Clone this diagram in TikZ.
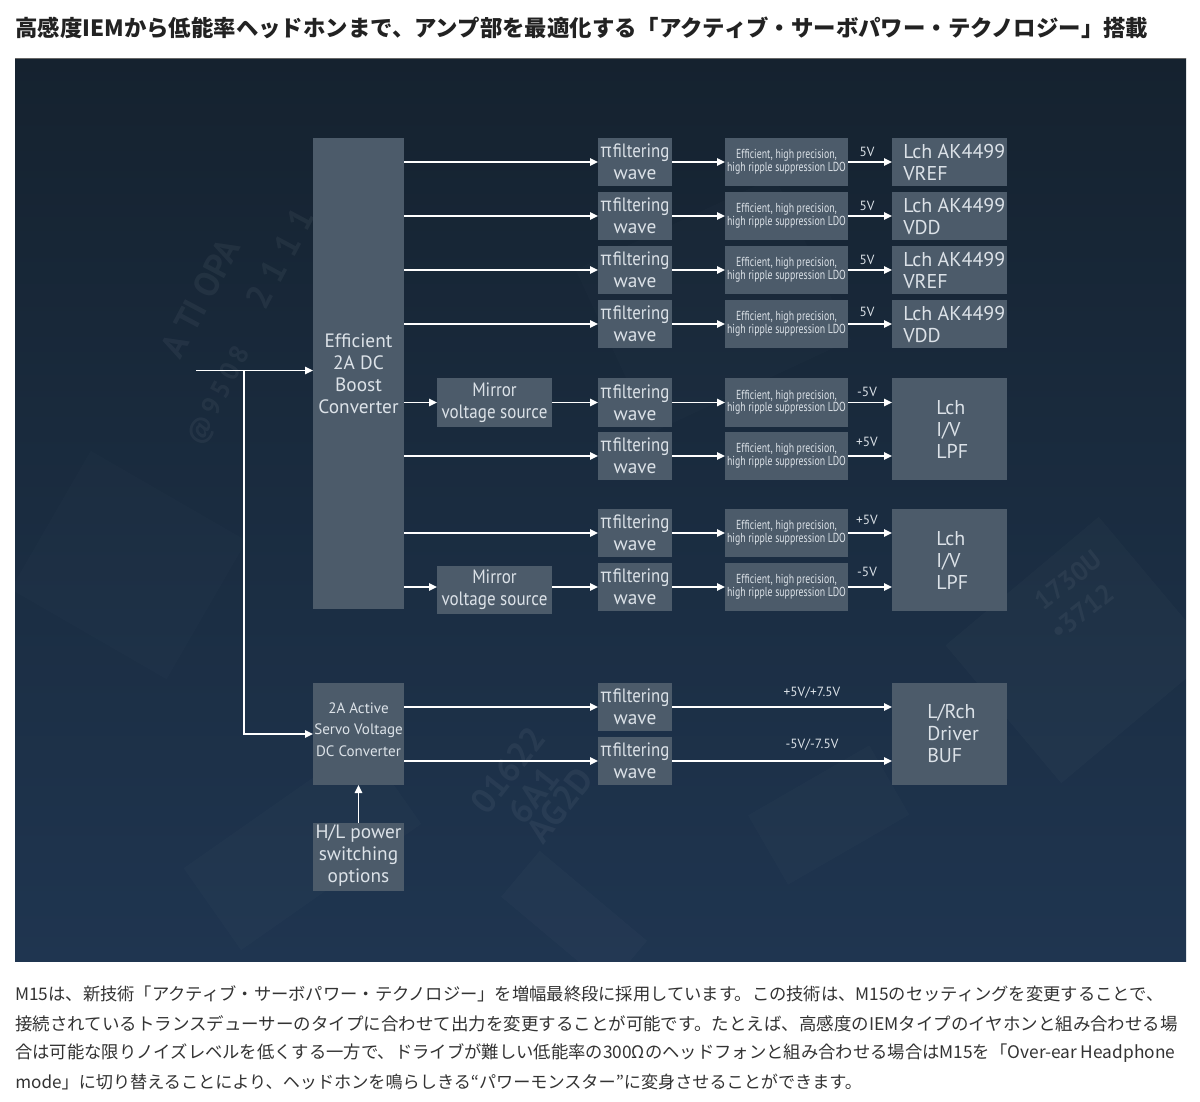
\documentclass[tikz,border=0pt]{standalone}
\usepackage{fontspec}
\usepackage{graphicx}
\setmainfont{PT Sans}
\newfontfamily\cjk{Noto Sans CJK JP}
\newfontfamily\grk{Noto Sans}
\usetikzlibrary{arrows.meta}
\definecolor{panelTop}{HTML}{15222F}
\definecolor{panelMid}{HTML}{1A2C40}
\definecolor{panelBot}{HTML}{1F3550}
\definecolor{boxc}{HTML}{4C5B6A}
\definecolor{boxtxt}{HTML}{DCE2E8}
\definecolor{titlec}{HTML}{222222}
\definecolor{bodyc}{HTML}{333333}
\newcommand\piw{\scalebox{0.87}[1]{{\grk π}\kern1pt filtering}\\wave}
\newcommand\ldotxt{\scalebox{0.75}[1]{\fontsize{9.8}{11}\selectfont\begin{tabular}{@{}c@{}}Efficient, high precision,\\[-1.5pt]high ripple suppression LDO\end{tabular}}}
\newcommand\mirr{\scalebox{0.88}[1]{Mirror}\\\scalebox{0.88}[1]{voltage source}}
% box from corner (x1,y1) to (x2,y2) in pixels
\newcommand\bx[7]{%
  \pgfmathsetmacro\bxcx{(#2+#4)/2}%
  \pgfmathsetmacro\bxcy{(#3+#5)/2}%
  \pgfmathsetmacro\bxw{(#4-#2)*0.75}%
  \pgfmathsetmacro\bxh{(#5-#3)*0.75}%
  \node[#6, minimum width=\bxw pt, minimum height=\bxh pt] (#1) at (\bxcx,\bxcy) {#7};}
\tikzset{
  blk/.style={fill=boxc, draw=none, inner sep=0pt, outer sep=0pt, text=boxtxt, align=center},
  pibox/.style={blk, font=\fontsize{14.5}{16.5}\selectfont},
  ldobox/.style={blk},
  outbox/.style={blk, font=\fontsize{15}{16.5}\selectfont, align=left},
  otext/.style={text=boxtxt, font=\fontsize{15}{16.5}\selectfont, align=left, inner sep=0pt, anchor=west},
  arr/.style={draw=white, line width=1.4pt, -{Triangle[length=6pt,width=5.5pt]}},
  vlab/.style={text=boxtxt, font=\fontsize{10}{12}\selectfont, inner sep=1pt},
  ghost/.style={text=white, opacity=0.05, font=\fontsize{26}{28}\selectfont\bfseries, inner sep=0pt}
}
\begin{document}
\begin{tikzpicture}[x=0.75pt,y=-0.75pt]
\useasboundingbox (0,0) rectangle (1200,1101);
\fill[white] (0,0) rectangle (1200,1101);
% title
\node[anchor=west, inner sep=0pt, text=titlec] (title) at (15,28)
  {\resizebox{849.75pt}{!}{\cjk\bfseries 高感度IEMから低能率ヘッドホンまで、アンプ部を最適化する「アクティブ・サーボパワー・テクノロジー」搭載}};
% panel
\shade[top color=panelTop, bottom color=panelBot, middle color=panelMid] (15,58) rectangle (1186,961);
\draw[line width=0.8pt, color=black!60] (15,58.5) -- (1186,58.5);
% faint background texture
\begin{scope}
\clip (15,58) rectangle (1186,961);
\fill[white, opacity=0.015, rotate around={35:(300,860)}] (200,800) rectangle (420,900);
\fill[white, opacity=0.018, rotate around={-40:(560,920)}] (500,880) rectangle (640,940);
\fill[white, opacity=0.018, rotate around={40:(1080,650)}] (980,560) rectangle (1180,740);
\fill[white, opacity=0.015, rotate around={30:(820,820)}] (760,780) rectangle (900,860);
\fill[white, opacity=0.012, rotate around={-30:(120,560)}] (40,480) rectangle (220,640);
\fill[white, opacity=0.012, rotate around={25:(700,300)}] (600,220) rectangle (820,400);
\node[ghost, rotate=62] (g1) at (200,298) {A TI OPA};
\node[ghost, rotate=62] (g2) at (280,258) {2\;1\;1\;1};
\node[ghost, rotate=62, font=\fontsize{20}{24}\selectfont\bfseries] (g3) at (220,396) {@\,9\,5\,0\,8};
\node[ghost, rotate=52] (g4) at (508,770) {01622};
\node[ghost, rotate=52] (g5) at (533,795) {6A1};
\node[ghost, rotate=52] (g6) at (560,805) {AG2D};
\node[ghost, rotate=38, font=\fontsize{20}{24}\selectfont\bfseries] (g7) at (1068,580) {1730U};
\node[ghost, rotate=38, font=\fontsize{20}{24}\selectfont\bfseries] (g8) at (1082,612) {\textbullet3712};
\end{scope}
% main blocks
\bx{boost}{313}{138}{404}{609}{blk, font=\fontsize{14.5}{16.5}\selectfont}{Efficient\\2A DC\\Boost\\Converter}
\bx{servo}{313}{683}{404}{785}{blk, font=\fontsize{11.3}{16}\selectfont}{2A Active\\Servo Voltage\\DC Converter\\[-9.2pt]}
\bx{hl}{313}{823}{404}{891}{blk, font=\fontsize{14.5}{16.5}\selectfont}{H/L power\\switching\\options\\[-11.5pt]}
\bx{m1}{437}{378}{552}{427}{blk, font=\fontsize{14.5}{16.5}\selectfont}{\mirr}
\bx{m2}{437}{566}{552}{614}{blk, font=\fontsize{14.5}{16.5}\selectfont}{\mirr}
% pi filters
\bx{p1}{598}{138}{672}{186}{pibox}{\piw}
\bx{p2}{598}{192}{672}{240}{pibox}{\piw}
\bx{p3}{598}{246}{672}{294}{pibox}{\piw}
\bx{p4}{598}{300}{672}{348}{pibox}{\piw}
\bx{p5}{598}{378}{672}{427}{pibox}{\piw}
\bx{p6}{598}{432}{672}{480}{pibox}{\piw}
\bx{p7}{598}{509}{672}{557}{pibox}{\piw}
\bx{p8}{598}{563}{672}{611}{pibox}{\piw}
\bx{p9}{598}{683}{672}{731}{pibox}{\piw}
\bx{p10}{598}{737}{672}{785}{pibox}{\piw}
% LDOs
\bx{d1}{725}{138}{848}{186}{ldobox}{\ldotxt}
\bx{d2}{725}{192}{848}{240}{ldobox}{\ldotxt}
\bx{d3}{725}{246}{848}{294}{ldobox}{\ldotxt}
\bx{d4}{725}{300}{848}{348}{ldobox}{\ldotxt}
\bx{d5}{725}{378}{848}{427}{ldobox}{\ldotxt}
\bx{d6}{725}{432}{848}{480}{ldobox}{\ldotxt}
\bx{d7}{725}{509}{848}{557}{ldobox}{\ldotxt}
\bx{d8}{725}{563}{848}{611}{ldobox}{\ldotxt}
% outputs
\bx{o1}{892}{138}{1007}{186}{outbox}{}
\bx{o2}{892}{192}{1007}{240}{outbox}{}
\bx{o3}{892}{246}{1007}{294}{outbox}{}
\bx{o4}{892}{300}{1007}{348}{outbox}{}
\bx{lpf1}{892}{378}{1007}{480}{outbox}{}
\bx{lpf2}{892}{509}{1007}{611}{outbox}{}
\bx{buf}{892}{683}{1007}{785}{outbox}{}
\node[otext] (t1) at (903,162) {Lch AK4499\\VREF};
\node[otext] (t2) at (903,216) {Lch AK4499\\VDD};
\node[otext] (t3) at (903,270) {Lch AK4499\\VREF};
\node[otext] (t4) at (903,324) {Lch AK4499\\VDD};
\node[otext] (t5) at (936,429) {Lch\\I/V\\LPF};
\node[otext] (t6) at (936,560) {Lch\\I/V\\LPF};
\node[otext] (t7) at (927,733) {L/Rch\\Driver\\BUF};
% input
\coordinate (in) at (196,370.5);
\coordinate (br) at (244,370.5);
\draw[arr] (in) -- (in -| boost.west);
\draw[arr] (br) |- (servo.west);
\draw[arr] (hl.north) -- (servo.south);
% boost to pi / mirror
\foreach \p in {p1,p2,p3,p4,p6,p7}{\draw[arr] (boost.east |- \p) -- (\p);}
\draw[arr] (boost.east |- p5) -- (m1.west |- p5);
\draw[arr] (m1.east |- p5) -- (p5);
\draw[arr] (boost.east |- p8) -- (m2.west |- p8);
\draw[arr] (m2.east |- p8) -- (p8);
% pi to ldo
\foreach \i in {1,...,8}{\draw[arr] (p\i) -- (d\i);}
% ldo to outputs
\draw[arr] (d1) -- (o1);
\draw[arr] (d2) -- (o2);
\draw[arr] (d3) -- (o3);
\draw[arr] (d4) -- (o4);
\draw[arr] (d5) -- (d5 -| lpf1.west);
\draw[arr] (d6) -- (d6 -| lpf1.west);
\draw[arr] (d7) -- (d7 -| lpf2.west);
\draw[arr] (d8) -- (d8 -| lpf2.west);
% servo to pi to buf
\draw[arr] (servo.east |- p9) -- (p9);
\draw[arr] (servo.east |- p10) -- (p10);
\draw[arr] (p9) -- (p9 -| buf.west);
\draw[arr] (p10) -- (p10 -| buf.west);
% voltage labels
\node[vlab] (v1) at (867,152) {5V};
\node[vlab] (v2) at (867,206) {5V};
\node[vlab] (v3) at (867,260) {5V};
\node[vlab] (v4) at (867,312) {5V};
\node[vlab] (v5) at (867,392) {-5V};
\node[vlab] (v6) at (867,442) {+5V};
\node[vlab] (v7) at (867,520) {+5V};
\node[vlab] (v8) at (867,572) {-5V};
\node[vlab] (v9) at (812,693) {+5V/+7.5V};
\node[vlab] (v10) at (812,745) {-5V/-7.5V};
% body text
\node[anchor=west, inner sep=0pt, text=bodyc] (b1) at (15,994) {\resizebox{861pt}{!}{\cjk M15は、新技術「アクティブ・サーボパワー・テクノロジー」を増幅最終段に採用しています。この技術は、M15のセッティングを変更することで、}};
\node[anchor=west, inner sep=0pt, text=bodyc] (b2) at (15,1024) {\resizebox{872pt}{!}{\cjk 接続されているトランスデューサーのタイプに合わせて出力を変更することが可能です。たとえば、高感度のIEMタイプのイヤホンと組み合わせる場}};
\node[anchor=west, inner sep=0pt, text=bodyc] (b3) at (15,1053) {\resizebox{870pt}{!}{\cjk 合は可能な限りノイズレベルを低くする一方で、ドライブが難しい低能率の300Ωのヘッドフォンと組み合わせる場合はM15を「Over-ear Headphone}};
\node[anchor=west, inner sep=0pt, text=bodyc] (b4) at (15,1082) {\resizebox{635pt}{!}{\cjk mode」に切り替えることにより、ヘッドホンを鳴らしきる“パワーモンスター”に変身させることができます。}};
\end{tikzpicture}
\end{document}
